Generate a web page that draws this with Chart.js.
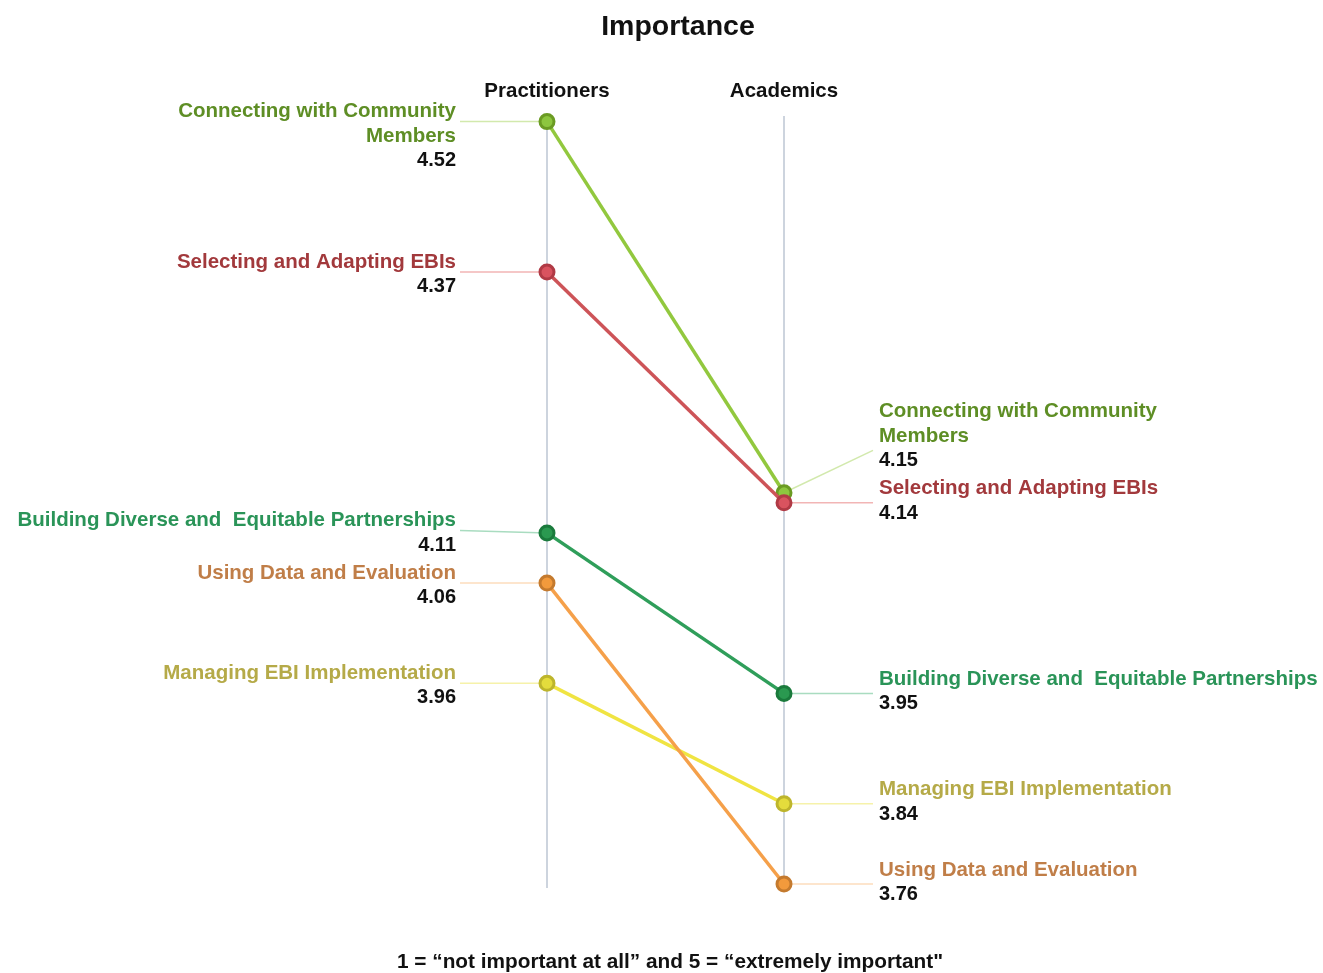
<!DOCTYPE html>
<html>
<head>
<meta charset="utf-8">
<title>Importance</title>
<script src="https://cdn.jsdelivr.net/npm/chart.js@4.4.0/dist/chart.umd.min.js"></script>
<style>
  html, body { margin: 0; padding: 0; background: #fff; }
</style>
</head>
<body>
<canvas id="chart" width="1323" height="973"></canvas>
<script>
// data
const groups = ['Practitioners', 'Academics'];

const selectingName = ['Selecting and Adapting EBIs'];
const connectingName = ['Connecting with Community', 'Members'];
const buildingName = ['Building Diverse and  Equitable Partnerships'];
const usingName = ['Using Data and Evaluation'];
const managingName = ['Managing EBI Implementation'];

const selectingValues = [4.37, 4.14];
const connectingValues = [4.52, 4.15];
const buildingValues = [4.11, 3.95];
const usingValues = [4.06, 3.76];
const managingValues = [3.96, 3.84];

const chartTitle = 'Importance';
const footNote = '1 = \u201cnot important at all\u201d and 5 = \u201cextremely important"';

const FONT = '"Liberation Sans", Arial, Helvetica, sans-serif';
const LINE_H = 24.5;

function makeSeries(name, values, line, ptBorder, ptFill, text, leader) {
    return {
        label: name.join(' '),
        nameLines: name,
        data: values,
        borderColor: line,
        backgroundColor: line,
        borderWidth: 3.5,
        pointRadius: 7,
        pointBorderWidth: 3,
        pointBorderColor: ptBorder,
        pointBackgroundColor: ptFill,
        textColor: text,
        leaderColor: leader,
        tension: 0,
        clip: false
    };
}

// place labels on one side, pushing overlapping ones upward
function layoutSide(chart, idx, offset) {
    const items = chart.data.datasets.map((ds, i) => {
        const pt = chart.getDatasetMeta(i).data[idx];
        return { ds: ds, value: ds.data[idx], x: pt.x, y: pt.y, c: pt.y - offset, n: ds.nameLines.length + 1 };
    }).sort((a, b) => a.y - b.y);
    const gap = 4;
    for (let i = items.length - 2; i >= 0; i--) {
        const a = items[i], b = items[i + 1];
        const bottomA = a.c + (a.n - 1) * LINE_H + 12;
        const topB = b.c - 12;
        if (bottomA + gap > topB) a.c -= bottomA + gap - topB;
    }
    return items;
}

const slopeLabels = {
    id: 'slopeLabels',
    beforeDatasetsDraw(chart) {
        const ctx = chart.ctx;
        chart.$sides = [
            { items: layoutSide(chart, 0, 10), dir: -1, offset: 10 },
            { items: layoutSide(chart, 1, 14), dir: 1, offset: 14 }
        ];
        ctx.save();
        ctx.lineWidth = 1.5;
        chart.$sides.forEach(side => {
            side.items.forEach(it => {
                const endX = it.x + (side.dir < 0 ? -87 : 89);
                // left side hooks onto the first name line, right side onto the last
                const line = side.dir < 0 ? 0 : it.n - 2;
                const endY = it.c + line * LINE_H + side.offset;
                ctx.strokeStyle = it.ds.leaderColor;
                ctx.beginPath();
                ctx.moveTo(it.x, it.y);
                ctx.lineTo(endX, endY);
                ctx.stroke();
            });
        });
        ctx.restore();
    },
    afterDraw(chart) {
        const ctx = chart.ctx;
        ctx.save();
        ctx.textBaseline = 'middle';
        chart.$sides.forEach(side => {
            ctx.textAlign = side.dir < 0 ? 'right' : 'left';
            side.items.forEach(it => {
                const tx = it.x + (side.dir < 0 ? -91 : 95);
                ctx.font = 'bold 20.5px ' + FONT;
                ctx.fillStyle = it.ds.textColor;
                it.ds.nameLines.forEach((line, k) => {
                    ctx.fillText(line, tx, it.c + k * LINE_H);
                });
                ctx.font = 'bold 20px ' + FONT;
                ctx.fillStyle = '#111';
                ctx.fillText(it.value.toFixed(2), tx, it.c + it.ds.nameLines.length * LINE_H);
            });
        });

        ctx.textAlign = 'center';
        ctx.fillStyle = '#111';
        ctx.font = 'bold 28.5px ' + FONT;
        ctx.fillText(chartTitle, 678, 27);
        ctx.font = 'bold 20.8px ' + FONT;
        ctx.fillText(footNote, 670, 962);
        ctx.restore();
    }
};

const datasets = [
    makeSeries(selectingName, selectingValues, '#cd5458', '#b03a45', '#d9535f', '#a2393c', '#f2b5b5'),
    makeSeries(connectingName, connectingValues, '#92c83e', '#6b9b23', '#8dc63f', '#5e8e25', '#d2e9ad'),
    makeSeries(buildingName, buildingValues, '#2f9e5a', '#1a7a3c', '#2a9950', '#2a9458', '#a9dcc0'),
    makeSeries(usingName, usingValues, '#f5a04a', '#c47a2e', '#f29a3c', '#c07e48', '#fcdcbc'),
    makeSeries(managingName, managingValues, '#f0e442', '#bdb52c', '#e4dc3c', '#b5aa48', '#f6f2aa')
];

new Chart(document.getElementById('chart'), {
    type: 'line',
    data: { labels: groups, datasets: datasets },
    options: {
        responsive: false,
        devicePixelRatio: 1,
        animation: false,
        events: [],
        layout: { padding: { top: 67, bottom: 85, left: 547, right: 539 } },
        plugins: {
            legend: { display: false },
            tooltip: { enabled: false },
            title: { display: false }
        },
        scales: {
            x: {
                type: 'category',
                position: 'top',
                offset: false,
                grid: { color: '#cdd4de', lineWidth: 2, drawTicks: false },
                border: { display: false },
                ticks: {
                    padding: 12,
                    color: '#111',
                    font: { family: FONT, size: 20.5, weight: 'bold' }
                }
            },
            y: { display: false, min: 3.756, max: 4.526 }
        }
    },
    plugins: [slopeLabels]
});
</script>
</body>
</html>
